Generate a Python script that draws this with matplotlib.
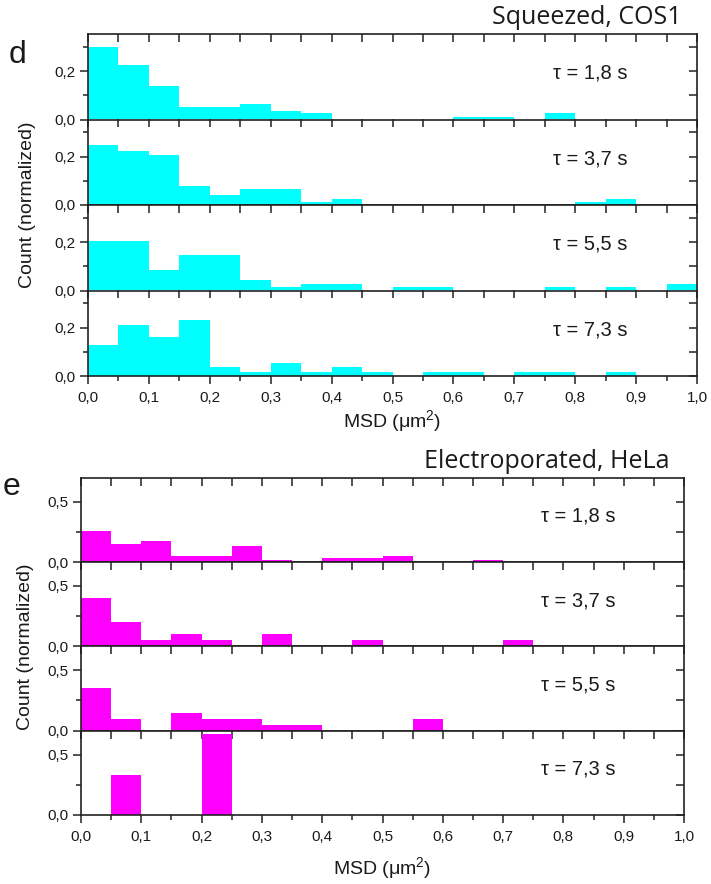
import numpy as np
import matplotlib
matplotlib.use("Agg")
import matplotlib.pyplot as plt
from matplotlib.ticker import MultipleLocator, FuncFormatter

# MSD histogram bins (left edges, µm^2) and bin width
bin_left = [0.00, 0.05, 0.10, 0.15, 0.20, 0.25, 0.30, 0.35, 0.40, 0.45,
            0.50, 0.55, 0.60, 0.65, 0.70, 0.75, 0.80, 0.85, 0.90, 0.95]
bin_width = 0.05

tau_labels = ["τ = 1,8 s", "τ = 3,7 s", "τ = 5,5 s", "τ = 7,3 s"]

# Squeezed, COS1 – normalized counts
cos1_tau18 = [0.300, 0.226, 0.138, 0.050, 0.050, 0.062, 0.037, 0.025, 0, 0,
              0, 0, 0.012, 0.012, 0, 0.025, 0, 0, 0, 0]
cos1_tau37 = [0.247, 0.223, 0.208, 0.079, 0.040, 0.065, 0.065, 0.014, 0.025, 0,
              0, 0, 0, 0, 0, 0, 0.014, 0.025, 0, 0]
cos1_tau55 = [0.204, 0.204, 0.086, 0.146, 0.146, 0.043, 0.014, 0.028, 0.028, 0,
              0.014, 0.014, 0, 0, 0, 0.014, 0, 0.014, 0, 0.028]
cos1_tau73 = [0.126, 0.212, 0.160, 0.230, 0.036, 0.018, 0.054, 0.018, 0.036, 0.018,
              0, 0.018, 0.018, 0, 0.018, 0.018, 0, 0.018, 0, 0]

# Electroporated, HeLa – normalized counts
hela_tau18 = [0.258, 0.153, 0.172, 0.053, 0.053, 0.136, 0.019, 0, 0.033, 0.033,
              0.053, 0, 0, 0.019, 0, 0, 0, 0, 0, 0]
hela_tau37 = [0.40, 0.20, 0.05, 0.10, 0.05, 0, 0.10, 0, 0, 0.05,
              0, 0, 0, 0, 0.05, 0, 0, 0, 0, 0]
hela_tau55 = [0.35, 0.10, 0, 0.15, 0.10, 0.10, 0.05, 0.05, 0, 0,
              0, 0.10, 0, 0, 0, 0, 0, 0, 0, 0]
hela_tau73 = [0, 0.333, 0, 0, 0.667, 0, 0, 0, 0, 0,
              0, 0, 0, 0, 0, 0, 0, 0, 0, 0]

cos1_series = [cos1_tau18, cos1_tau37, cos1_tau55, cos1_tau73]
hela_series = [hela_tau18, hela_tau37, hela_tau55, hela_tau73]

W, H = 711, 884
plt.rcParams["font.family"] = ["Liberation Sans", "DejaVu Sans"]
plt.rcParams["mathtext.fontset"] = "custom"
plt.rcParams["mathtext.rm"] = "Liberation Sans"
plt.rcParams["mathtext.it"] = "Liberation Sans:italic"
plt.rcParams["mathtext.default"] = "regular"

fig = plt.figure(figsize=(W / 100, H / 100), dpi=100)

TXT = "#1a1a1a"
SPINE = "#222222"


def comma(v, pos):
    return f"{v:.1f}".replace(".", ",")


def add_px_axes(left, top, right, bottom):
    return fig.add_axes([left / W, 1 - bottom / H, (right - left) / W, (bottom - top) / H])


def panel(left, right, top, bottom, series, color, ymax, ymajor, yminor,
          title, letter, letter_xy, title_right, title_y, xlabel_y, ylabel_x):
    row_h = (bottom - top) / len(series)
    axes = []
    for i, vals in enumerate(series):
        ax = add_px_axes(left, top + i * row_h, right, top + (i + 1) * row_h)
        ax.bar(bin_left, vals, width=bin_width, align="edge", color=color,
               edgecolor="none", linewidth=0, zorder=1)
        ax.set_xlim(0, 1.0)
        ax.set_ylim(0, ymax)
        ax.xaxis.set_major_locator(MultipleLocator(0.1))
        ax.xaxis.set_minor_locator(MultipleLocator(0.05))
        ax.yaxis.set_major_locator(MultipleLocator(ymajor))
        ax.yaxis.set_minor_locator(MultipleLocator(yminor))
        ax.xaxis.set_major_formatter(FuncFormatter(comma))
        ax.yaxis.set_major_formatter(FuncFormatter(comma))
        for sp in ax.spines.values():
            sp.set_linewidth(1.2)
            sp.set_color(SPINE)
            sp.set_zorder(3)
        # left/bottom ticks outward, mirrored top/right ticks inward
        ax.tick_params(axis="both", which="both", direction="out", colors=SPINE,
                       labelcolor=TXT, labelsize=11, width=1.1)
        ax.tick_params(which="major", length=6)
        ax.tick_params(which="minor", length=3.5)
        ax.tick_params(axis="x", which="major", pad=5)
        ax.tick_params(axis="y", which="major", pad=3)
        sec_x = ax.secondary_xaxis("top")
        sec_x.xaxis.set_major_locator(MultipleLocator(0.1))
        sec_x.xaxis.set_minor_locator(MultipleLocator(0.05))
        sec_x.tick_params(which="both", direction="in", labeltop=False, colors=SPINE, width=1.1)
        sec_x.tick_params(which="major", length=6)
        sec_x.tick_params(which="minor", length=6)
        sec_x.spines["top"].set_visible(False)
        sec_y = ax.secondary_yaxis("right")
        sec_y.yaxis.set_major_locator(MultipleLocator(ymajor))
        sec_y.yaxis.set_minor_locator(MultipleLocator(yminor))
        sec_y.tick_params(which="both", direction="in", labelright=False, colors=SPINE, width=1.1)
        sec_y.tick_params(which="major", length=6)
        sec_y.tick_params(which="minor", length=6)
        sec_y.spines["right"].set_visible(False)
        if i < len(series) - 1:
            ax.tick_params(axis="x", labelbottom=False)
        ax.text(0.825, 0.54, tau_labels[i], transform=ax.transAxes, ha="center",
                va="center", fontsize=14.5, color=TXT)
        axes.append(ax)

    fig.text(title_right / W, 1 - title_y / H, title, ha="right", va="center",
             fontsize=18, color=TXT, family=["Open Sans", "DejaVu Sans"])
    fig.text(letter_xy[0] / W, 1 - letter_xy[1] / H, letter, ha="center", va="center",
             fontsize=23, color=TXT)
    fig.text(((left + right) / 2) / W, 1 - xlabel_y / H, "MSD (μm$^2$)",
             ha="center", va="center", fontsize=14, color=TXT)
    fig.text(ylabel_x / W, 1 - ((top + bottom) / 2) / H, "Count (normalized)",
             ha="center", va="center", rotation=90, fontsize=14, color=TXT)
    return axes


panel(88, 697, 34, 376, cos1_series, "#00FFFF", 0.353, 0.2, 0.1,
      "Squeezed, COS1", "d", (18, 55), 682, 17, 421, 28)
panel(81, 684, 477.7, 815, hela_series, "#FF00FF", 0.698, 0.5, 0.25,
      "Electroporated, HeLa", "e", (12, 487), 669, 461, 868, 26)

fig.savefig("out.png", dpi=100)
